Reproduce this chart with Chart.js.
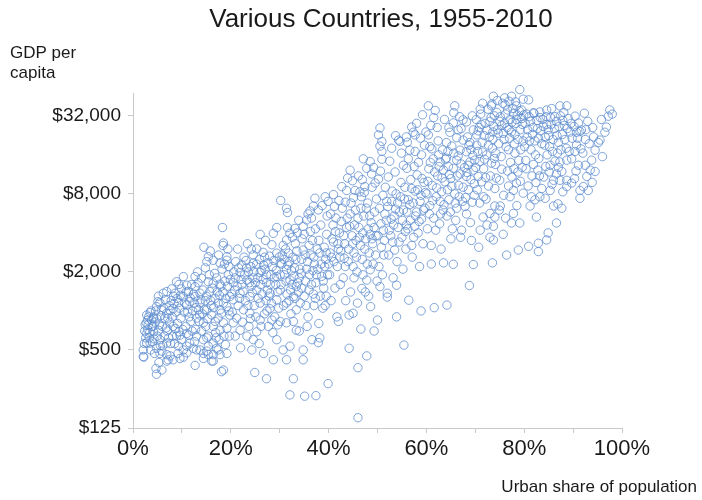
<!DOCTYPE html>
<html>
<head>
<meta charset="utf-8">
<script src="https://cdn.jsdelivr.net/npm/chart.js@4/dist/chart.umd.min.js"></script>
<style>
	html, body { margin: 0; padding: 0; background: #ffffff; }
	#wrap { position: relative; width: 702px; height: 500px; }
</style>
</head>
<body>
<div id="wrap"><canvas id="graph" width="702" height="500"></canvas></div>
<script>
// Chart text
var chart_title = "Various Countries, 1955-2010";
var y_title = ["GDP per", "capita"];
var x_title = "Urban share of population";

// Tick values
var y_ticks = [125, 500, 2000, 8000, 32000];
var x_ticks = [0, 10, 20, 30, 40, 50, 60, 70, 80, 90, 100];

// Observations: [urban share %, GDP per capita $], grouped by urban share band
var band00 = [[2.1,500],[2.1,445],[2.2,440],[2.8,565],[2.5,780],[2.8,930],[3.5,970],[4.2,900],[3.8,850],[4.8,1080],[5.5,1160],[6.2,1370],[6.9,1410],[5.2,1300],[4.2,690],[5.2,710],[5.5,600],[6.9,565],[4.8,515],[5.9,490],[6.9,460],[7.6,450],[7.2,420],[8.2,760],[8.9,640],[9.3,535],[9.9,600],[6.9,960],[7.6,1010],[8.2,1040],[9.3,1160],[9.9,1480],[8.6,1370],[8.9,1680],[4.7,360],[4.8,325],[5.9,350],[3.1,780],[4.2,880],[2.8,670],[3.5,565],[6.9,410],[8.2,420],[5.5,470],[9.6,650],[3.0,720],[3.3,620],[4.0,580],[4.5,820],[5.0,640],[6.0,760],[6.5,880],[7.0,700],[7.5,820],[8.0,900],[8.5,560],[9.0,1250],[9.5,1050],[7.8,1200],[6.3,1050],[5.7,920],[4.6,1000],[3.9,760],[2.6,620],[9.8,880],[8.7,730],[7.3,620],[6.1,540],[5.3,400],[4.4,470],[9.2,470],[3.6,500],[2.4,700],[9.6,430],
	[2.3,560],[2.7,810],[3.2,900],[3.4,680],[3.7,1000],[4.1,760],[4.3,610],[4.9,870],[5.1,1180],[5.4,780],[5.8,1020],[6.4,640],[6.6,1220],[6.8,740],[7.1,880],[7.4,1100],[7.7,560],[8.1,640],[8.4,1140],[8.8,980],[9.1,800],[9.4,690],[9.7,1320],[3.0,850],[5.6,540],[7.9,1480],[8.3,1300],[9.4,1600]];
var band10 = [[10.3,500],[11,475],[11.6,565],[10.3,440],[10.3,1290],[11.3,1410],[10.3,1840],[12.7,1840],[11,1580],[12.7,1540],[12.7,380],[14.4,470],[15.4,460],[16.4,410],[18.5,350],[17.8,460],[11,535],[12.3,515],[13.7,500],[11,670],[13,640],[15.1,620],[16.4,565],[17.1,515],[19.2,470],[15.1,2400],[16.4,2460],[17.8,2340],[19.2,2460],[14,1790],[15.4,1680],[16.4,1640],[17.8,1610],[15.7,1410],[13.7,1370],[12.7,1290],[11.6,1180],[11,1110],[13.7,1150],[13.4,1020],[15.1,1020],[13,880],[14.4,810],[16.1,930],[17.4,880],[17.8,1020],[18.5,1150],[19.8,1290],[19.2,1080],[19.8,930],[19.2,735],[17.8,710],[18.5,810],[16.4,760],[15.4,640],[14.4,600],[15.4,535],[16.4,460],[15.1,490],[13,500],[16.1,410],[18.1,340],[14.4,430],[17.4,500],[18.3,4400],[14.5,3100],[18.5,3340],[18.4,3200],[15.4,2620],[19.2,2620],[10.8,760],[11.5,900],[12.2,1000],[12.8,720],[13.5,830],[14.2,950],[14.8,1200],[16.0,1100],[16.8,1250],[17.2,1400],[18.0,1550],[18.8,1700],[19.5,1900],[12.0,1600],[13.2,2000],[14.8,2150],[16.7,1950],[18.2,2100],[19.6,2200],[10.5,980],[11.8,830],[12.5,1150],[17.6,600],[18.9,550],[19.7,640],[14.0,700],[16.9,680],[11.4,650],
	[10.2,720],[10.6,1150],[10.9,1400],[11.2,980],[11.7,1260],[12.1,700],[12.4,1350],[12.9,1060],[13.3,1650],[13.6,930],[13.9,1220],[14.3,1450],[14.6,1020],[15.0,1300],[15.3,870],[15.6,1900],[15.9,1200],[16.2,1500],[16.5,1060],[16.8,830],[17.1,1800],[17.4,1150],[17.7,1320],[18.1,960],[18.4,1400],[18.7,2300],[19.0,1250],[19.3,1550],[19.6,1000],[19.9,1750],[12.6,580],[14.9,760],[17.0,620],[18.6,640],[15.8,2900],[17.5,2700],[19.4,3000]];
var band20 = [[20.5,810],[20.9,640],[22.6,1020],[20.5,1220],[21.9,1370],[23.9,1290],[26,1150],[28,1040],[29.4,1220],[23.3,1730],[26,1980],[27.3,1650],[29.4,1840],[21.9,1980],[20.5,1650],[22.2,2260],[24.6,2340],[26.7,2260],[24.6,600],[25.3,690],[23.3,640],[24.3,500],[26.7,470],[29.4,600],[28.7,420],[27.3,300],[24.9,335],[28.4,850],[26,850],[27.7,760],[21.2,880],[23.9,960],[25.3,1450],[28,1370],[21.9,710],[23.4,3300],[25.3,3010],[26.6,2830],[24.6,2710],[29.4,4400],[28.4,3240],[29.4,2790],[28.7,3970],[20.8,1450],[21.5,1100],[22.3,1600],[23.0,1200],[23.6,2000],[24.2,1550],[24.8,1100],[25.5,1800],[25.9,2500],[26.4,1350],[27.0,2100],[27.5,1450],[28.2,1900],[28.8,2450],[29.2,1600],[29.8,1050],[22.7,2600],[21.0,2400],[27.9,2650],[24.0,870],[26.9,950],[28.6,680],[22.0,520],[25.8,560],[29.0,900],[20.3,980],[23.2,2150],[24.5,1800],[27.2,1200],
	[20.2,1350],[20.6,2000],[20.9,1800],[21.3,1550],[21.6,2150],[21.8,1250],[22.1,1750],[22.5,1420],[22.8,1900],[23.1,2450],[23.5,1100],[23.8,1650],[24.1,2200],[24.4,1380],[24.7,2000],[25.0,1650],[25.3,2300],[25.6,1250],[26.1,1600],[26.3,2050],[26.6,1750],[26.9,2600],[27.3,1900],[27.6,2350],[27.8,1300],[28.1,1600],[28.5,2200],[28.9,1800],[29.3,2050],[29.6,1400],[29.9,2600],[22.4,820],[23.7,760],[25.1,900],[26.2,760],[27.4,1000],[28.3,1150],[29.6,780],[21.4,3000],[24.2,3000],[27.1,3500],[26.0,3900]];
var band30 = [[30.2,7110],[31.4,6200],[31.6,5740],[30.7,3200],[32.1,3970],[31.4,3530],[33.1,4330],[31.8,2790],[30.7,500],[31.4,420],[32.8,300],[32.1,225],[32.1,535],[30.1,830],[31.4,810],[32.8,830],[33.4,710],[31.4,1150],[32.8,1290],[32.1,1730],[31.4,2080],[30.1,2340],[30.1,1450],[33.4,1540],[33.4,1020],[35.1,220],[37.4,222],[39.9,275],[34.8,500],[34.8,420],[36.6,600],[38.2,620],[37.9,570],[37.2,7400],[39.3,7600],[36.9,6450],[36.2,5900],[37.9,6010],[35.5,5030],[34.8,4500],[30.5,2700],[31.0,1900],[31.5,1350],[32.0,2400],[32.5,1600],[33.0,2150],[33.5,2900],[34.0,1800],[34.5,2500],[35.0,1300],[35.5,2100],[36.0,3200],[36.5,1600],[37.0,2600],[37.5,1900],[38.0,3500],[38.5,2300],[39.0,1500],[39.5,2800],[30.8,1100],[32.3,950],[34.2,1150],[35.8,900],[37.3,1250],[38.8,1050],[34.6,3600],[36.3,4100],[38.4,4600],[39.6,3900],[33.2,3300],[35.2,2700],[37.7,3000],[39.2,2200],[36.8,2050],[34.0,700],[35.6,760],[38.0,800],[39.5,1300],[31.2,3000],[33.8,1400],[36.0,1450],[38.9,1700],[32.7,2600],[35.8,5600],[39.7,5400],[37.0,1100],[33.6,4000],[30.3,1600],
	[30.1,1900],[30.4,2300],[30.9,2500],[31.3,1700],[31.7,2250],[32.2,1450],[32.4,2050],[32.9,1850],[33.3,2500],[33.7,1650],[34.1,2100],[34.4,1950],[34.8,2950],[35.3,1700],[35.7,2400],[36.1,1900],[36.4,2700],[36.7,3500],[37.1,2300],[37.4,1650],[37.8,2100],[38.2,2800],[38.6,1850],[39.1,3100],[39.4,2500],[39.8,1900],[31.9,1200],[33.1,1250],[34.5,1500],[35.4,1100],[36.9,1350],[38.3,1300],[39.3,1100],[31.6,4400],[33.9,5000],[36.5,5200],[38.7,6500],[39.9,7000],[32.6,3700],[35.0,3900],[37.3,4300]];
var band40 = [[42,830],[44.2,930],[45,960],[41.7,900],[46.8,1490],[47.8,1730],[48.5,2080],[46,150],[44.2,515],[47.8,450],[46,365],[46.6,725],[49.3,700],[48.6,1080],[41,7900],[42.7,9100],[43.7,8500],[45.4,8500],[46.4,8300],[47.4,9100],[49.5,9700],[44.4,12190],[47.1,14900],[48.5,14200],[47.8,12600],[48.8,11400],[40.2,1900],[40.6,2600],[41.0,3400],[41.3,1500],[41.8,2200],[42.2,4000],[42.5,2900],[43.0,1800],[43.3,3300],[43.8,5200],[44.0,2400],[44.5,1400],[44.8,3800],[45.2,2800],[45.5,6000],[45.8,2000],[46.2,4400],[46.5,3200],[46.9,2500],[47.2,5400],[47.6,3600],[48.0,6800],[48.3,2800],[48.7,4800],[49.0,3300],[49.4,5800],[49.8,7300],[40.5,1200],[41.5,5200],[42.8,6200],[43.5,1200],[44.6,6800],[45.9,1150],[46.7,7600],[48.2,1300],[49.1,2300],[40.9,4600],[42.0,3000],[43.2,2550],[44.3,4500],[45.6,3500],[47.0,1900],[48.5,3900],[49.6,2700],[41.2,6400],[43.9,10600],[46.1,11000],[49.2,12800],[40.0,2300],[42.4,1600],[45.0,2200],[47.9,2300],
	[40.3,2800],[40.7,3600],[41.1,2400],[41.4,4100],[41.9,3300],[42.3,2600],[42.6,4900],[43.1,3800],[43.4,2200],[43.7,4400],[44.1,3000],[44.4,5600],[44.9,3300],[45.3,4600],[45.7,2600],[46.0,5200],[46.3,3700],[46.6,6200],[47.0,4000],[47.4,3000],[47.7,6200],[48.1,4300],[48.4,5400],[48.9,3600],[49.3,4400],[49.7,3800],[40.4,5600],[42.1,7100],[43.4,6900],[45.1,7500],[47.3,8200],[48.9,9000],[44.9,10100],[46.9,10300],[45.2,1800],[47.5,1400],[49.9,1700]];
var band50 = [[50.5,25800],[50.2,22800],[50.9,20300],[50.5,18700],[50.9,17000],[54.3,20800],[54.6,20300],[57,26200],[57.3,23900],[57.7,22800],[56.6,17400],[56.3,14900],[55.3,13300],[56,12600],[57.7,17000],[59.2,32600],[50.2,10400],[55.4,545],[50,850],[53.9,900],[58.9,1000],[56.4,1210],[52,1370],[52,1280],[50.5,1540],[53.9,1580],[50.3,2200],[50.8,3100],[51.2,4200],[51.5,5600],[51.9,7000],[52.3,2700],[52.7,3800],[53.0,8400],[53.3,4600],[53.7,6100],[54.0,2400],[54.4,3400],[54.8,9800],[55.1,5000],[55.5,7300],[55.8,3000],[56.2,4300],[56.6,6600],[57.0,8800],[57.4,3700],[57.8,5400],[58.1,11200],[58.5,4900],[58.9,7800],[59.3,3300],[59.7,6200],[50.6,12000],[51.6,9000],[52.5,14300],[53.6,11800],[54.9,16500],[56.8,10300],[58.4,14000],[59.6,19000],[51.0,1900],[53.2,1800],[55.2,2100],[57.1,2600],[58.6,2200],[52.8,5100],[54.1,6800],[56.0,5800],[58.2,8600],[59.5,9800],[51.4,3500],[55.7,4100],[53.5,2950],[57.6,4500],[59.0,5100],[52.2,10800],[55.9,22000],[58.0,28000],
	[50.1,3800],[50.4,6200],[50.7,4700],[51.1,7800],[51.3,2700],[51.8,5000],[52.1,6400],[52.4,4200],[52.9,7000],[53.1,3400],[53.4,5400],[53.8,8000],[54.2,4400],[54.5,5800],[54.7,7600],[55.0,3700],[55.3,6000],[55.6,9000],[55.9,4600],[56.3,7200],[56.7,5000],[57.0,3200],[57.3,6800],[57.7,8400],[58.0,5800],[58.3,4000],[58.7,7000],[59.1,10500],[59.4,6000],[59.8,8200],[50.9,14800],[52.9,18000],[53.7,22500],[56.1,20000],[57.5,13000],[59.0,16000],[59.9,24000],[58.8,21500]];
var band60 = [[60.4,38200],[61.8,35200],[65.8,38200],[65.6,33800],[67.5,29800],[68.2,28700],[69.6,24900],[65.5,28200],[66.5,24900],[64.8,23900],[66.2,21700],[67.5,20800],[68.9,19900],[64.1,19900],[65.2,18700],[66.9,17400],[68.2,16900],[69.9,14560],[68.9,14100],[66.2,14560],[64.1,15100],[62.8,14100],[63.5,12190],[65.5,12600],[66.9,11400],[68.2,10900],[69.6,12190],[60.4,22800],[61.1,17800],[61.4,14900],[61.6,1060],[64.2,1110],[68.8,1570],[69.6,2280],[61,2300],[63.5,2350],[65.5,2290],[60.2,4300],[60.7,6500],[61.2,9300],[61.5,5200],[62.0,7600],[62.3,11000],[62.7,4700],[63.1,8300],[63.4,6000],[63.8,9900],[64.2,5400],[64.6,7200],[65.0,10500],[65.3,4300],[65.8,8000],[66.2,6200],[66.6,9300],[67.0,3700],[67.4,7000],[67.8,12800],[68.2,5600],[68.6,8600],[69.0,4800],[69.4,6900],[69.8,9600],[60.5,12500],[62.5,16000],[64.5,13000],[66.5,15700],[68.5,13300],[61.0,3200],[63.0,3000],[65.0,3600],[67.2,4200],[69.2,3500],[62.2,26000],[63.7,30000],[60.9,27000],[64.4,17000],[67.1,25500],[69.1,17600],[60.1,8000],[62.9,5600],[66.0,5000],[68.0,7500],
	[60.3,10000],[60.6,5600],[60.8,14000],[61.3,7100],[61.7,11800],[61.9,4200],[62.1,8900],[62.6,13000],[62.8,7000],[63.2,10600],[63.6,6600],[63.9,14800],[64.3,8600],[64.7,11300],[64.9,5800],[65.2,9200],[65.6,16500],[65.9,6800],[66.3,11000],[66.7,7600],[67.1,13600],[67.5,9000],[67.9,6400],[68.3,11700],[68.7,19000],[69.1,10300],[69.5,15800],[69.8,7800],[60.7,18500],[62.4,20500],[63.3,17500],[64.6,26000],[66.8,31500],[68.4,22000],[69.4,32000],[61.5,31000]];
var band70 = [[70.3,22800],[70.6,10900],[79.1,51000],[73.7,45300],[77.4,45300],[79.8,43000],[76.1,38900],[73.3,38200],[78.4,38200],[79.5,35500],[77.8,8500],[78.4,9700],[79.8,8100],[77.1,7600],[77.8,5650],[79.1,4770],[77.4,4770],[75.1,6450],[74,6450],[73,5650],[71.6,5300],[74,5300],[73.7,4500],[71,4200],[73,3700],[73.7,3530],[78.8,2950],[76.4,2700],[73.5,2350],[70.2,30000],[70.5,17000],[70.8,26000],[71.1,33000],[71.4,20000],[71.7,12500],[72.0,28000],[72.3,16000],[72.6,36000],[72.9,22000],[73.2,31000],[73.5,18000],[73.8,26500],[74.1,13500],[74.4,34000],[74.7,23500],[75.0,29000],[75.3,15500],[75.6,40000],[75.9,21000],[76.2,33000],[76.5,26000],[76.8,17500],[77.1,30000],[77.4,24000],[77.7,36500],[78.0,19500],[78.3,28000],[78.6,32500],[78.9,14500],[79.2,25000],[79.5,30500],[79.8,20500],[70.4,8600],[71.3,9900],[72.2,7300],[73.1,11000],[74.0,8800],[75.0,10200],[75.8,7800],[76.6,12000],[77.5,10800],[78.7,11800],[79.6,12800],[71.9,14800],[73.6,24000],[75.4,27000],[77.0,21500],[78.1,16500],[71.5,40000],[74.5,42000],[76.9,41500],[72.7,9200],[74.9,6000],[76.2,5200],[78.5,6500],[70.9,6800],[75.7,3900],[72.4,4600],[70.7,3100],
	[70.1,12800],[70.3,19000],[70.6,24500],[70.9,14200],[71.2,27500],[71.5,16800],[71.8,22500],[72.1,10700],[72.4,24800],[72.7,19000],[73.0,29000],[73.3,13800],[73.6,21000],[73.9,32000],[74.2,16500],[74.5,25000],[74.8,19500],[75.1,31500],[75.4,12400],[75.7,23500],[76.0,28000],[76.3,18500],[76.6,35500],[76.9,25000],[77.2,14000],[77.5,28500],[77.8,33500],[78.1,23000],[78.4,30000],[78.7,21000],[79.0,35000],[79.3,17500],[79.6,27500],[79.9,32500],[71.0,36000],[73.4,39500],[76.0,44000],[78.2,41000],[71.7,7600],[74.3,10600],[76.8,9200],[79.2,10000],[73.9,15000],[77.9,12500]];
var band80 = [[80.9,42500],[81.9,33800],[83.2,34300],[84.6,35500],[85.6,36400],[87.3,38200],[88.7,38200],[86.6,11400],[87.7,11900],[88.7,10180],[89.7,9700],[87.3,14100],[86.3,14300],[85.3,13300],[88.7,14560],[89.7,14900],[87.3,10180],[86,10180],[88.7,9100],[87.9,8300],[85.3,8500],[84.3,7400],[83.2,7600],[81.5,7600],[81.2,6450],[82.2,7200],[86.9,6700],[87.7,6200],[86,6450],[86.6,4770],[82.5,5300],[84.9,4000],[84.6,3530],[82.9,3330],[80.9,3150],[82.9,2870],[80.2,28000],[80.6,22000],[81.0,31500],[81.4,17500],[81.8,26000],[82.2,20500],[82.6,29500],[83.0,15000],[83.4,24500],[83.8,30000],[84.2,19000],[84.6,27500],[85.0,22500],[85.4,31000],[85.8,17000],[86.2,25500],[86.6,29000],[87.0,20000],[87.4,32000],[87.8,23000],[88.2,27000],[88.6,18000],[89.0,30500],[89.4,24000],[89.8,21500],[80.4,12500],[81.6,11000],[82.8,12200],[84.0,10800],[85.1,11800],[80.8,9200],[82.4,9800],[83.6,8800],[84.7,16000],[86.8,16500],[88.1,34000],
	[80.1,18500],[80.5,33000],[80.7,25000],[81.1,20500],[81.3,29000],[81.7,23000],[82.0,33500],[82.3,16000],[82.7,25500],[82.9,21500],[83.3,31000],[83.6,19500],[83.9,26500],[84.3,22000],[84.5,31500],[84.9,25000],[85.2,18500],[85.5,27500],[85.9,21000],[86.3,31500],[86.7,22500],[87.1,26500],[87.5,17500],[87.9,29500],[88.3,21000],[88.8,25500],[89.2,17000],[89.6,28000],[80.3,14500],[81.9,13500],[83.1,11000],[84.4,13000],[85.7,9500],[87.0,12800]];
var band90 = [[97.5,35500],[97.2,31800],[96.8,26200],[96.5,23900],[95.5,20800],[95.2,19900],[94.5,17400],[93.8,14560],[93.5,12190],[94.5,11900],[92.8,10900],[90.4,31800],[91.1,28200],[91.4,24200],[91.7,24900],[90.7,23900],[90.7,19050],[90.4,17000],[91.1,13300],[91.4,8500],[92.1,9100],[93.1,8500],[91.4,7400],[92.3,33500],[93.0,29000],[94.0,26000],[92.5,21000],[95.8,30000],[98.0,33000],[96.0,15500],[92.0,16500],
	[90.2,26500],[90.9,21500],[91.6,17800],[92.6,25000],[93.3,19500],[94.2,22000],[90.6,12000],[92.5,13300],[93.9,9800],[90.3,10500]];

// Colours
var point_color = "rgba(92, 140, 206, 0.78)";
var axis_color = "#c9c9c9";
var text_color = "#1a1a1a";
var font_family = "'Liberation Sans', Arial, sans-serif";

var points = [].concat(band00, band10, band20, band30, band40, band50, band60, band70, band80, band90)
	.map(function(p) { return { x: p[0], y: p[1] }; });

// Titles drawn on the canvas in fixed places, like the original slide
var textPlugin = {
	id: "slideText",
	afterDraw: function(chart) {
		var ctx = chart.ctx;
		ctx.save();
		ctx.fillStyle = text_color;
		ctx.textBaseline = "alphabetic";
		ctx.textAlign = "center";
		ctx.font = "26px " + font_family;
		ctx.fillText(chart_title, 381, 27);
		ctx.textAlign = "left";
		ctx.font = "17px " + font_family;
		ctx.fillText(y_title[0], 10, 58);
		ctx.fillText(y_title[1], 10, 78);
		ctx.textAlign = "right";
		ctx.fillText(x_title, 697, 492);
		ctx.restore();
	}
};

var canvas = document.getElementById("graph").getContext("2d");
var graph = new Chart(canvas, {
	type: "scatter",
	data: {
		datasets: [
			{
				label: "Countries",
				data: points,
				pointStyle: "circle",
				pointRadius: 4.2,
				pointBorderWidth: 1,
				borderColor: point_color,
				backgroundColor: "rgba(0,0,0,0)",
				clip: false
			}
		]
	},
	plugins: [textPlugin],
	options: {
		responsive: false,
		animation: false,
		layout: {
			padding: { left: 0, right: 80, top: 93, bottom: 0 }
		},
		plugins: {
			legend: { display: false },
			tooltip: { enabled: false },
			title: { display: false }
		},
		scales: {
			x: {
				type: "linear",
				min: 0,
				max: 100,
				afterBuildTicks: function(scale) {
					scale.ticks = x_ticks.map(function(v) { return { value: v }; });
				},
				afterFit: function(scale) {
					scale.height = 72;
				},
				border: { color: axis_color, width: 1 },
				grid: {
					drawOnChartArea: false,
					drawTicks: true,
					tickLength: 5,
					color: axis_color
				},
				ticks: {
					autoSkip: false,
					maxRotation: 0,
					padding: 3,
					color: text_color,
					font: { family: font_family, size: 22 },
					callback: function(value) {
						return value % 20 === 0 ? value + "%" : "";
					}
				}
			},
			y: {
				type: "logarithmic",
				min: 125,
				max: 48000,
				afterBuildTicks: function(scale) {
					scale.ticks = y_ticks.map(function(v) { return { value: v }; });
				},
				afterFit: function(scale) {
					scale.width = 133;
				},
				border: { color: axis_color, width: 1 },
				grid: {
					drawOnChartArea: false,
					drawTicks: true,
					tickLength: 5,
					color: axis_color
				},
				ticks: {
					autoSkip: false,
					padding: 7,
					color: text_color,
					font: { family: font_family, size: 19 },
					callback: function(value) {
						return "$" + Number(value).toLocaleString("en-US");
					}
				}
			}
		}
	}
});
</script>
</body>
</html>
